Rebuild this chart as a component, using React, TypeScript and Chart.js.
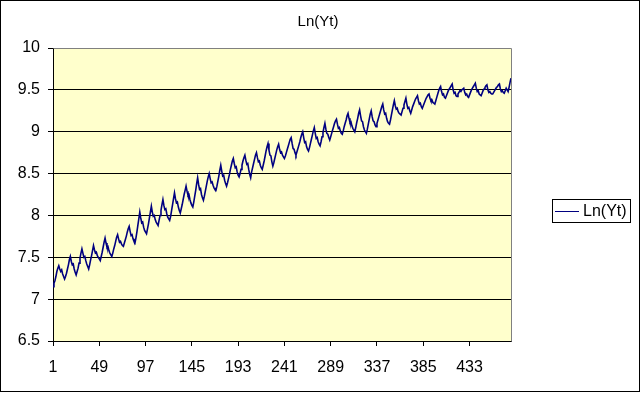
import React, { useEffect, useRef } from "react";
import { Chart, registerables } from "chart.js";

Chart.register(...registerables);

const TITLE = "Ln(Yt)";
const SERIES_NAME = "Ln(Yt)";

const lnYt: number[] = [
  7.15, 7.19, 7.22, 7.27, 7.33, 7.37, 7.40, 7.36, 7.33, 7.35, 7.30, 7.27,
  7.24, 7.27, 7.31, 7.36, 7.41, 7.47, 7.51, 7.45, 7.41, 7.42, 7.36, 7.32,
  7.29, 7.33, 7.37, 7.43, 7.49, 7.55, 7.60, 7.55, 7.50, 7.51, 7.46, 7.42,
  7.39, 7.36, 7.41, 7.47, 7.52, 7.58, 7.64, 7.59, 7.55, 7.56, 7.52, 7.50,
  7.48, 7.46, 7.51, 7.56, 7.62, 7.68, 7.73, 7.67, 7.62, 7.63, 7.58, 7.55,
  7.53, 7.51, 7.55, 7.60, 7.64, 7.69, 7.74, 7.77, 7.72, 7.68, 7.69, 7.66,
  7.64, 7.63, 7.67, 7.71, 7.75, 7.80, 7.84, 7.87, 7.81, 7.76, 7.77, 7.72,
  7.69, 7.67, 7.73, 7.80, 7.88, 7.96, 8.04, 7.97, 7.91, 7.92, 7.86, 7.82,
  7.80, 7.78, 7.84, 7.90, 7.97, 8.04, 8.11, 8.04, 7.99, 8.00, 7.95, 7.92,
  7.90, 7.88, 7.94, 8.00, 8.06, 8.13, 8.19, 8.12, 8.07, 8.08, 8.02, 7.98,
  7.96, 7.94, 7.99, 8.06, 8.13, 8.20, 8.27, 8.20, 8.15, 8.16, 8.10, 8.06,
  8.03, 8.08, 8.13, 8.19, 8.25, 8.30, 8.35, 8.29, 8.24, 8.25, 8.19, 8.15,
  8.12, 8.10, 8.16, 8.23, 8.30, 8.38, 8.45, 8.37, 8.31, 8.32, 8.25, 8.21,
  8.18, 8.23, 8.29, 8.35, 8.41, 8.46, 8.50, 8.44, 8.39, 8.40, 8.36, 8.33,
  8.31, 8.30, 8.35, 8.41, 8.47, 8.54, 8.60, 8.53, 8.47, 8.48, 8.42, 8.38,
  8.35, 8.39, 8.44, 8.49, 8.55, 8.60, 8.65, 8.68, 8.62, 8.57, 8.58, 8.52,
  8.48, 8.46, 8.50, 8.55, 8.60, 8.65, 8.69, 8.72, 8.66, 8.61, 8.62, 8.55,
  8.49, 8.45, 8.52, 8.57, 8.62, 8.67, 8.72, 8.75, 8.69, 8.64, 8.65, 8.60,
  8.57, 8.55, 8.60, 8.65, 8.71, 8.77, 8.82, 8.86, 8.78, 8.72, 8.71, 8.64,
  8.59, 8.63, 8.68, 8.73, 8.78, 8.82, 8.85, 8.79, 8.75, 8.76, 8.72, 8.70,
  8.68, 8.71, 8.75, 8.79, 8.83, 8.87, 8.91, 8.93, 8.86, 8.80, 8.79, 8.75,
  8.72, 8.76, 8.80, 8.84, 8.88, 8.93, 8.97, 9.00, 8.93, 8.87, 8.88, 8.82,
  8.79, 8.77, 8.81, 8.86, 8.91, 8.96, 9.01, 9.05, 8.98, 8.92, 8.93, 8.88,
  8.85, 8.83, 8.88, 8.94, 8.99, 9.05, 9.10, 9.03, 8.98, 8.97, 8.93, 8.90,
  8.94, 8.98, 9.02, 9.06, 9.10, 9.13, 9.15, 9.09, 9.04, 9.05, 9.01, 8.98,
  8.97, 9.01, 9.06, 9.10, 9.14, 9.19, 9.22, 9.16, 9.11, 9.12, 9.07, 9.04,
  9.02, 9.00, 9.05, 9.11, 9.16, 9.22, 9.26, 9.19, 9.13, 9.12, 9.06, 9.02,
  9.00, 8.98, 9.03, 9.09, 9.15, 9.21, 9.25, 9.18, 9.13, 9.12, 9.08, 9.06,
  9.10, 9.14, 9.18, 9.22, 9.26, 9.30, 9.33, 9.26, 9.21, 9.22, 9.16, 9.12,
  9.10, 9.09, 9.14, 9.20, 9.26, 9.32, 9.37, 9.31, 9.27, 9.28, 9.24, 9.22,
  9.21, 9.20, 9.24, 9.28, 9.32, 9.36, 9.40, 9.33, 9.28, 9.29, 9.25, 9.22,
  9.26, 9.30, 9.33, 9.36, 9.39, 9.41, 9.43, 9.37, 9.33, 9.34, 9.30, 9.28,
  9.31, 9.34, 9.37, 9.40, 9.42, 9.44, 9.45, 9.40, 9.37, 9.38, 9.35, 9.34,
  9.33, 9.37, 9.41, 9.45, 9.49, 9.52, 9.54, 9.48, 9.44, 9.45, 9.41, 9.40,
  9.43, 9.46, 9.49, 9.51, 9.53, 9.55, 9.57, 9.50, 9.46, 9.47, 9.43, 9.42,
  9.45, 9.47, 9.49, 9.48, 9.50, 9.51, 9.52, 9.47, 9.44, 9.45, 9.42, 9.41,
  9.44, 9.47, 9.50, 9.52, 9.54, 9.56, 9.58, 9.52, 9.48, 9.49, 9.45, 9.44,
  9.43, 9.46, 9.49, 9.51, 9.53, 9.55, 9.56, 9.50, 9.47, 9.48, 9.46, 9.45,
  9.45, 9.47, 9.49, 9.51, 9.53, 9.54, 9.56, 9.57, 9.51, 9.48, 9.49, 9.47,
  9.46, 9.49, 9.52, 9.50, 9.48, 9.53, 9.59, 9.64,
];

const periods: number[] = lnYt.map((_, i) => i + 1);
const xTickLabels: number[] = [1, 49, 97, 145, 193, 241, 289, 337, 385, 433];
const yMin = 6.5;
const yMax = 10;
const yStep = 0.5;

const FONT = '"Liberation Sans", Arial, sans-serif';
const LINE_COLOR = "#000080";

const decorPlugin = {
  id: "excelDecor",
  beforeDraw(chart: any) {
    const { ctx, chartArea } = chart;
    ctx.save();
    ctx.fillStyle = "#ffffff";
    ctx.fillRect(0, 0, chart.width, chart.height);
    ctx.fillStyle = "#FFFFCC";
    ctx.fillRect(
      chartArea.left,
      chartArea.top,
      chartArea.right - chartArea.left,
      chartArea.bottom - chartArea.top
    );
    ctx.restore();
  },
  afterDraw(chart: any) {
    const { ctx, chartArea } = chart;
    ctx.save();
    ctx.strokeStyle = "#808080";
    ctx.lineWidth = 1;
    ctx.beginPath();
    ctx.moveTo(Math.round(chartArea.left) + 0.5, Math.round(chartArea.top) + 0.5);
    ctx.lineTo(Math.round(chartArea.right) + 0.5, Math.round(chartArea.top) + 0.5);
    ctx.lineTo(Math.round(chartArea.right) + 0.5, Math.round(chartArea.bottom) + 0.5);
    ctx.stroke();
    ctx.strokeStyle = "#000000";
    ctx.strokeRect(0.5, 0.5, 639, 391);
    ctx.fillStyle = "#000000";
    ctx.font = `15px ${FONT}`;
    ctx.textAlign = "center";
    ctx.textBaseline = "middle";
    ctx.fillText(TITLE, 318, 22);
    ctx.fillStyle = "#ffffff";
    ctx.fillRect(552, 199, 79, 24);
    ctx.strokeStyle = "#000000";
    ctx.strokeRect(552.5, 199.5, 78, 23);
    ctx.strokeStyle = LINE_COLOR;
    ctx.lineWidth = 1;
    ctx.beginPath();
    ctx.moveTo(555, 211.5);
    ctx.lineTo(579, 211.5);
    ctx.stroke();
    ctx.fillStyle = "#000000";
    ctx.textAlign = "left";
    ctx.font = `16px ${FONT}`;
    ctx.fillText(SERIES_NAME, 583, 212);
    ctx.restore();
  },
};

export default function App() {
  const ref = useRef<HTMLCanvasElement | null>(null);
  useEffect(() => {
    if (!ref.current) return;
    const chart = new Chart(ref.current, {
      type: "line",
      data: {
        datasets: [
          {
            label: SERIES_NAME,
            data: periods.map((p, i) => ({ x: p, y: lnYt[i] })),
            borderColor: LINE_COLOR,
            borderWidth: 1.6,
            pointRadius: 0,
            tension: 0,
            fill: false,
          },
        ],
      },
      options: {
        animation: false,
        responsive: false,
        devicePixelRatio: 1,
        layout: { padding: { left: 0, top: 48, right: 130, bottom: 0 } },
        plugins: {
          legend: { display: false },
          title: { display: false },
          tooltip: { enabled: false },
        },
        scales: {
          x: {
            type: "linear",
            min: periods[0],
            max: periods[periods.length - 1],
            afterBuildTicks: (scale: any) => {
              scale.ticks = xTickLabels.map((v) => ({ value: v }));
            },
            afterFit: (scale: any) => {
              scale.height = 52;
            },
            grid: {
              drawOnChartArea: false,
              drawTicks: true,
              tickLength: 5,
              tickColor: "#000000",
              color: "#000000",
            },
            border: { display: true, color: "#000000", width: 1 },
            ticks: {
              autoSkip: false,
              maxRotation: 0,
              padding: 12,
              color: "#000000",
              font: { family: FONT, size: 16 },
              callback: (v: any) => String(v),
            },
          },
          y: {
            type: "linear",
            min: yMin,
            max: yMax,
            afterFit: (scale: any) => {
              scale.width = 53;
            },
            grid: {
              color: (c: any) => (c.tick && c.tick.value === yMax ? "#808080" : "#000000"),
              lineWidth: 1,
              drawTicks: true,
              tickLength: 5,
              tickColor: "#000000",
            },
            border: { display: true, color: "#000000", width: 1 },
            ticks: {
              stepSize: yStep,
              padding: 8,
              color: "#000000",
              font: { family: FONT, size: 16 },
              callback: (v: any) => String(Math.round(Number(v) * 10) / 10),
            },
          },
        },
      },
      plugins: [decorPlugin],
    });
    return () => chart.destroy();
  }, []);
  return (
    <div style={{ position: "absolute", left: 0, top: 0, width: 641, height: 393 }}>
      <canvas ref={ref} width={641} height={393} style={{ display: "block" }} />
    </div>
  );
}
